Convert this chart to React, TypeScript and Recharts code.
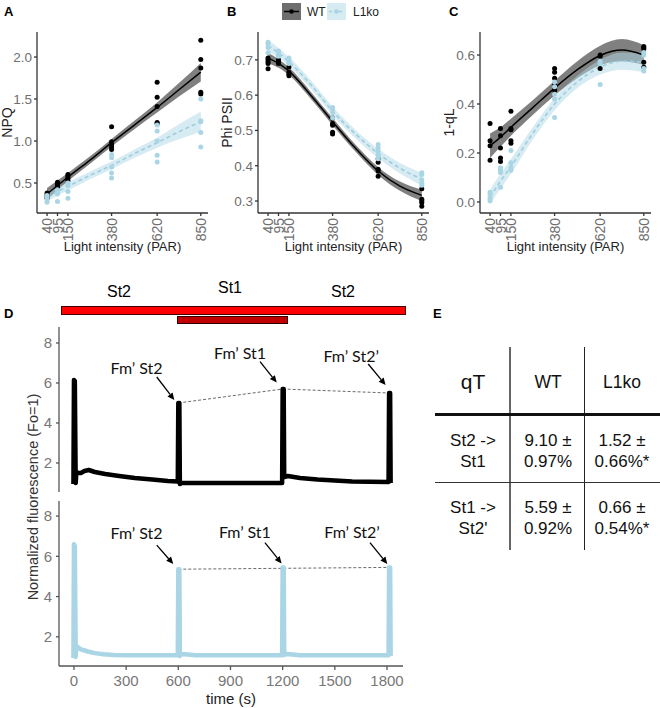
import {
  Area,
  ComposedChart,
  Line,
  LineChart,
  ReferenceDot,
  ReferenceLine,
  Scatter,
  XAxis,
  YAxis,
} from 'recharts'

const FONT = '"Liberation Sans", Arial, sans-serif'
const NOTE_FONT = 'Lato, "Liberation Sans", sans-serif'
const KO = '#a9d5e4'
const KO_LINE = '#9fcde0'
const KO_BAND = '#add8e6'
const WT_BAND = '#555555'
const TICK = '#6e6e6e'
const TICK_D = '#777'
const AXIS = '#333'
const AXIS_D = '#555'

// panels A-C
const lightLevels = [40, 95, 150, 380, 620, 850]
const fitX = [40, 95, 150, 265, 380, 500, 620, 735, 850]

const npqTicks = [0.5, 1.0, 1.5, 2.0]
const npqWt = [
  [0.32, 0.34, 0.36, 0.38],
  [0.45, 0.47, 0.49, 0.51],
  [0.53, 0.56, 0.58, 0.6],
  [0.9, 0.93, 0.96, 0.99, 1.17],
  [1.21, 1.22, 1.41, 1.52, 1.7],
  [1.56, 1.58, 1.87, 1.97, 2.2],
]
const npqKo = [
  [0.27, 0.3, 0.33, 0.35],
  [0.28, 0.37, 0.4, 0.42],
  [0.32, 0.4, 0.47, 0.5],
  [0.56, 0.62, 0.69, 0.8, 0.84],
  [0.75, 0.83, 1.0, 1.12, 1.19],
  [0.93, 1.1, 1.23, 1.24, 1.5],
]
const npqWtFit = [0.37, 0.47, 0.57, 0.77, 0.98, 1.19, 1.4, 1.61, 1.82]
const npqWtSe = [0.07, 0.06, 0.05, 0.045, 0.045, 0.05, 0.06, 0.08, 0.11]
const npqKoFit = [0.34, 0.4, 0.46, 0.59, 0.71, 0.85, 0.98, 1.11, 1.23]
const npqKoSe = [0.06, 0.05, 0.05, 0.045, 0.045, 0.05, 0.06, 0.09, 0.12]

const phiTicks = [0.3, 0.4, 0.5, 0.6, 0.7]
const phiWt = [
  [0.675, 0.69, 0.695, 0.7, 0.705],
  [0.69, 0.695, 0.7, 0.695],
  [0.655, 0.66, 0.665, 0.68],
  [0.49, 0.495, 0.515, 0.52, 0.535],
  [0.37, 0.385, 0.39, 0.41, 0.42],
  [0.285, 0.295, 0.3, 0.305, 0.335],
]
const phiKo = [
  [0.72, 0.735, 0.745, 0.75],
  [0.71, 0.715, 0.72, 0.725],
  [0.69, 0.695, 0.7, 0.705],
  [0.535, 0.55, 0.56, 0.565],
  [0.42, 0.43, 0.44, 0.45, 0.46],
  [0.345, 0.35, 0.36, 0.375, 0.38],
]
const phiWtFit = [0.705, 0.69, 0.668, 0.6, 0.525, 0.45, 0.385, 0.342, 0.316]
const phiWtSe = [0.015, 0.012, 0.011, 0.01, 0.01, 0.01, 0.011, 0.013, 0.016]
const phiKoFit = [0.74, 0.72, 0.695, 0.63, 0.555, 0.49, 0.435, 0.393, 0.362]
const phiKoSe = [0.016, 0.014, 0.013, 0.012, 0.012, 0.012, 0.013, 0.015, 0.018]

const qlTicks = [0.0, 0.2, 0.4, 0.6]
const qlWt = [
  [0.17, 0.23, 0.25, 0.32],
  [0.165, 0.18, 0.22, 0.27, 0.3],
  [0.24, 0.25, 0.295, 0.3, 0.37],
  [0.455, 0.46, 0.48, 0.505, 0.53, 0.545],
  [0.545, 0.595, 0.6],
  [0.55, 0.57, 0.625, 0.63, 0.635],
]
const qlKo = [
  [0.005, 0.015, 0.03, 0.04],
  [0.06, 0.12, 0.13, 0.14],
  [0.13, 0.14, 0.16, 0.21],
  [0.345, 0.42, 0.44, 0.47, 0.49],
  [0.48, 0.565, 0.575],
  [0.535, 0.545, 0.6, 0.61],
]
const qlWtFit = [0.23, 0.265, 0.305, 0.385, 0.465, 0.54, 0.598, 0.62, 0.6]
const qlWtSe = [0.05, 0.04, 0.035, 0.03, 0.03, 0.035, 0.04, 0.045, 0.04]
const qlKoFit = [0.02, 0.085, 0.145, 0.28, 0.4, 0.49, 0.55, 0.575, 0.57]
const qlKoSe = [0.03, 0.03, 0.03, 0.025, 0.025, 0.025, 0.03, 0.035, 0.04]

// panel D
const timeTicks = [0, 300, 600, 900, 1200, 1500, 1800]
const fluoTicks = [2, 4, 6, 8]
const fmLabels = ['Fm’ St2', 'Fm’ St1', 'Fm’ St2’']

const wtTrace = [
  [-3, 0.95], [0, 6.15], [5, 6.1], [10, 1.0], [14, 1.55], [25, 1.5], [40, 1.5], [60, 1.6],
  [85, 1.65], [120, 1.55], [180, 1.45], [260, 1.35], [350, 1.25], [450, 1.17], [540, 1.1],
  [597, 1.07], [600, 5.0], [606, 5.0], [609, 0.95], [620, 1.0], [700, 1.0], [800, 1.0],
  [900, 1.0], [1000, 1.0], [1100, 1.0], [1197, 1.0], [1200, 5.7], [1206, 5.7], [1209, 1.3],
  [1230, 1.35], [1300, 1.25], [1400, 1.17], [1500, 1.12], [1600, 1.08], [1700, 1.06],
  [1809, 1.05], [1812, 5.5], [1818, 5.5], [1821, 1.0],
]
const wtLabelPos = [[360, 6.8], [955, 7.55], [1594, 7.4]]
const wtArrows = [
  [[476, 6.3], [577, 5.15]],
  [[1070, 7.07], [1166, 6.02]],
  [[1692, 6.95], [1792, 5.9]],
]
const wtFmLine = [[600, 5.0], [1200, 5.7], [1812, 5.5]]

const koTrace = [
  [-3, 0.95], [0, 6.6], [5, 6.5], [10, 1.0], [14, 1.55], [20, 1.5], [40, 1.38], [80, 1.27],
  [120, 1.19], [170, 1.13], [230, 1.1], [300, 1.09], [400, 1.08], [500, 1.08], [597, 1.08],
  [600, 5.36], [606, 5.36], [609, 1.05], [620, 1.15], [700, 1.08], [800, 1.08], [900, 1.08],
  [1000, 1.08], [1100, 1.08], [1197, 1.08], [1200, 5.45], [1206, 5.45], [1209, 1.1],
  [1225, 1.15], [1300, 1.08], [1400, 1.08], [1500, 1.08], [1600, 1.08], [1700, 1.08],
  [1809, 1.08], [1812, 5.45], [1818, 5.45], [1821, 1.05],
]
const koLabelPos = [[360, 7.2], [983, 7.23], [1599, 7.23]]
const koArrows = [
  [[476, 6.56], [571, 5.62]],
  [[1098, 6.68], [1194, 5.65]],
  [[1702, 6.68], [1802, 5.62]],
]
const koFmLine = [[600, 5.36], [1812, 5.45]]

// panel E
const tableHead = ['qT', 'WT', 'L1ko']
const tableRows = [
  ['St2 ->\nSt1', '9.10 ±\n0.97%', '1.52 ±\n0.66%*'],
  ['St1 ->\nSt2\'', '5.59 ±\n0.92%', '0.66 ±\n0.54%*'],
]

const toPoints = (groups: number[][]) =>
  lightLevels.flatMap((x, i) => groups[i].map((y) => ({ x, y })))

const dot = (color: string) => (p: any) => <circle cx={p.cx} cy={p.cy} r={2.5} fill={color} />

const RotTick = ({ x, y, payload }: any) => (
  <text
    x={x}
    y={y}
    transform={`rotate(-90 ${x} ${y})`}
    textAnchor="end"
    dy="0.36em"
    fontSize={14}
    fill={TICK}
  >
    {payload.value}
  </text>
)

const YTitle = ({ posX, txt }: any) => (
  <text
    x={posX}
    y={122.5}
    transform={`rotate(-90 ${posX} 122.5)`}
    textAnchor="middle"
    dominantBaseline="central"
    fontSize={14}
    fill="#222"
  >
    {txt}
  </text>
)

const Panel = ({ left, axisW, wt, ko, wtFit, wtSe, koFit, koSe, domain, ticks, title, titleX }: any) => {
  const rows = fitX.map((x, i) => ({
    x,
    wt: wtFit[i],
    wtBand: [wtFit[i] - wtSe[i], wtFit[i] + wtSe[i]],
    ko: koFit[i],
    koBand: [koFit[i] - koSe[i], koFit[i] + koSe[i]],
  }))
  return (
    <div style={{ position: 'absolute', left, top: 0 }}>
      <ComposedChart
        width={axisW + 171 + 8}
        height={260}
        data={rows}
        margin={{ top: 32, right: 8, bottom: 0, left: 0 }}
      >
        <XAxis
          type="number"
          dataKey="x"
          domain={[-13, 888]}
          ticks={lightLevels}
          interval={0}
          allowDataOverflow
          height={47}
          tickSize={3}
          stroke={AXIS}
          strokeWidth={1.3}
          tick={<RotTick />}
          label={{ value: 'Light intensity (PAR)', position: 'insideBottom', offset: 9, fill: '#222', fontSize: 13 }}
        />
        <YAxis
          type="number"
          dataKey="y"
          domain={domain}
          ticks={ticks}
          interval={0}
          allowDataOverflow
          width={axisW}
          tickSize={3}
          stroke={AXIS}
          strokeWidth={1.3}
          tick={{ fill: TICK, fontSize: 13.5 }}
          tickFormatter={(v: number) => v.toFixed(1)}
          label={<YTitle posX={titleX} txt={title} />}
        />
        <Area type="monotone" dataKey="wtBand" stroke="none" fill={WT_BAND} fillOpacity={0.75} isAnimationActive={false} />
        <Area type="monotone" dataKey="koBand" stroke="none" fill={KO_BAND} fillOpacity={0.5} isAnimationActive={false} />
        <Line type="monotone" dataKey="wt" stroke="#000" strokeWidth={1.5} dot={false} isAnimationActive={false} />
        <Line type="monotone" dataKey="ko" stroke={KO_LINE} strokeWidth={1.6} strokeDasharray="4 3" dot={false} isAnimationActive={false} />
        <Scatter data={toPoints(wt)} fill="#000" shape={dot('#000')} isAnimationActive={false} />
        <Scatter data={toPoints(ko)} fill={KO} shape={dot(KO)} isAnimationActive={false} />
      </ComposedChart>
    </div>
  )
}

const arrowShape = (p: any) => {
  const { x1, y1, x2, y2 } = p
  const a = Math.atan2(y2 - y1, x2 - x1)
  const L = 7
  const W = 3.2
  const bx = x2 - L * Math.cos(a)
  const by = y2 - L * Math.sin(a)
  const px = -Math.sin(a) * W
  const py = Math.cos(a) * W
  return (
    <g>
      <line x1={x1} y1={y1} x2={bx} y2={by} stroke="#000" strokeWidth={1.3} />
      <polygon points={`${x2},${y2} ${bx + px},${by + py} ${bx - px},${by - py}`} fill="#000" />
    </g>
  )
}

const noteShape = (txt: string) => (p: any) => (
  <text
    x={p.cx}
    y={p.cy}
    textAnchor="middle"
    dominantBaseline="central"
    fontFamily={NOTE_FONT}
    fontSize={16}
    fill="#111"
  >
    {txt}
  </text>
)

const FluoPanel = ({ top, trace, color, domainY, showX, marginTop, labelPos, arrows, fmLine }: any) => {
  const rows = trace.map(([t, v]: number[]) => ({ t, v }))
  const height = marginTop + 165 + (showX ? 42 : 2)
  const segs = fmLine.slice(1).map((pt: number[], i: number) => [fmLine[i], pt])
  return (
    <div style={{ position: 'absolute', left: 0, top }}>
      <LineChart
        width={413}
        height={height}
        data={rows}
        margin={{ top: marginTop, right: 10, left: 0, bottom: showX ? 0 : 2 }}
      >
        <XAxis
          hide={!showX}
          type="number"
          dataKey="t"
          domain={[-86, 1892]}
          ticks={timeTicks}
          interval={0}
          allowDataOverflow
          height={42}
          tickSize={4}
          tickMargin={5}
          stroke={AXIS_D}
          strokeWidth={1.3}
          tick={{ fill: TICK_D, fontSize: 15 }}
          label={{ value: 'time (s)', position: 'insideBottom', offset: 4, fill: '#222', fontSize: 15 }}
        />
        <YAxis
          type="number"
          domain={domainY}
          ticks={fluoTicks}
          interval={0}
          allowDataOverflow
          width={59}
          tickSize={3}
          tickMargin={4}
          stroke={AXIS_D}
          strokeWidth={1.3}
          tick={{ fill: TICK_D, fontSize: 15 }}
        />
        {segs.map((s: number[][], i: number) => (
          <ReferenceLine
            key={`fm${i}`}
            segment={[{ x: s[0][0], y: s[0][1] }, { x: s[1][0], y: s[1][1] }]}
            stroke="#444"
            strokeWidth={0.8}
            strokeDasharray="3 2"
            ifOverflow="visible"
          />
        ))}
        <Line
          type="linear"
          dataKey="v"
          stroke={color}
          strokeWidth={4.5}
          strokeLinejoin="round"
          dot={false}
          isAnimationActive={false}
        />
        {arrows.map((a: number[][], i: number) => (
          <ReferenceLine
            key={`ar${i}`}
            segment={[{ x: a[0][0], y: a[0][1] }, { x: a[1][0], y: a[1][1] }]}
            shape={arrowShape}
            ifOverflow="visible"
          />
        ))}
        {labelPos.map((p: number[], i: number) => (
          <ReferenceDot key={`lb${i}`} x={p[0]} y={p[1]} r={0} shape={noteShape(fmLabels[i])} ifOverflow="visible" />
        ))}
      </LineChart>
    </div>
  )
}

const letter = (txt: string, left: number, top: number) => (
  <div style={{ position: 'absolute', left, top, fontWeight: 'bold', fontSize: 13, lineHeight: '13px' }}>{txt}</div>
)

const colCenters = [473, 548, 622]
const rowTops = [429.5, 496.5]

export default function App() {
  return (
    <div style={{ position: 'absolute', left: 0, top: 0, width: 660, height: 708, background: '#fff', fontFamily: FONT, overflow: 'hidden' }}>
      <Panel left={0} axisW={37} wt={npqWt} ko={npqKo} wtFit={npqWtFit} wtSe={npqWtSe} koFit={npqKoFit} koSe={npqKoSe}
        domain={[0.143, 2.298]} ticks={npqTicks} title="NPQ" titleX={7} />
      <Panel left={216} axisW={42} wt={phiWt} ko={phiKo} wtFit={phiWtFit} wtSe={phiWtSe} koFit={phiKoFit} koSe={phiKoSe}
        domain={[0.266, 0.779]} ticks={phiTicks} title="Phi PSII" titleX={11} />
      <Panel left={437} axisW={43} wt={qlWt} ko={qlKo} wtFit={qlWtFit} wtSe={qlWtSe} koFit={qlKoFit} koSe={qlKoSe}
        domain={[-0.045, 0.694]} ticks={qlTicks} title="1-qL" titleX={12} />

      {letter('A', 4, 5)}
      {letter('B', 227, 5)}
      {letter('C', 449, 5)}
      {letter('D', 4, 307)}
      {letter('E', 433, 307)}

      {/* legend */}
      <svg style={{ position: 'absolute', left: 282, top: 3 }} width={100} height={18}>
        <rect x={0} y={0} width={19} height={17} fill="#6e6e6e" />
        <line x1={2} y1={8.5} x2={17} y2={8.5} stroke="#000" strokeWidth={1.5} />
        <circle cx={9.5} cy={8.5} r={2.3} fill="#000" />
        <text x={25} y={13} fontSize={12} fill="#222">WT</text>
        <rect x={45} y={0} width={19} height={17} fill="#d6ebf2" />
        <line x1={47} y1={8.5} x2={62} y2={8.5} stroke={KO_LINE} strokeWidth={1.5} strokeDasharray="3 2" />
        <circle cx={54.5} cy={8.5} r={2.3} fill={KO} />
        <text x={71} y={13} fontSize={12} fill="#222">L1ko</text>
      </svg>

      {/* light regime bars */}
      <div style={{ position: 'absolute', left: 107, top: 283, fontSize: 16 }}>St2</div>
      <div style={{ position: 'absolute', left: 218, top: 279, fontSize: 16 }}>St1</div>
      <div style={{ position: 'absolute', left: 331, top: 283, fontSize: 16 }}>St2</div>
      <div style={{ position: 'absolute', left: 61, top: 306, width: 343, height: 7, background: '#ff0000', border: '1px solid #400' }} />
      <div style={{ position: 'absolute', left: 177, top: 316, width: 109, height: 6, background: '#c00000', border: '1px solid #300' }} />

      <FluoPanel top={320} marginTop={7} trace={wtTrace} color="#000" domainY={[0.55, 8.8]} showX={false}
        labelPos={wtLabelPos} arrows={wtArrows} fmLine={wtFmLine} />
      <FluoPanel top={495} marginTop={6} trace={koTrace} color={KO} domainY={[0.55, 8.75]} showX
        labelPos={koLabelPos} arrows={koArrows} fmLine={koFmLine} />

      <svg style={{ position: 'absolute', left: 0, top: 0 }} width={60} height={708}>
        <text x={33} y={497} transform="rotate(-90 33 497)" textAnchor="middle" dominantBaseline="central" fontSize={14.5} fill="#333">
          Normalized fluorescence (Fo=1)
        </text>
      </svg>

      {/* table E */}
      <div style={{ position: 'absolute', left: 509, top: 347, width: 1.5, height: 203, background: '#666' }} />
      <div style={{ position: 'absolute', left: 583.5, top: 347, width: 1.5, height: 203, background: '#222' }} />
      <div style={{ position: 'absolute', left: 435, top: 412.5, width: 225, height: 3.5, background: '#111' }} />
      <div style={{ position: 'absolute', left: 435, top: 481.5, width: 225, height: 1.5, background: '#333' }} />
      {tableHead.map((h, i) => (
        <div key={h} style={{ position: 'absolute', left: colCenters[i] - 37, top: i === 0 ? 369 : 371, width: 74, textAlign: 'center', fontSize: i === 0 ? 21 : 17.5, lineHeight: i === 0 ? '26px' : '22px', color: '#111' }}>
          {h}
        </div>
      ))}
      {tableRows.map((row, r) =>
        row.map((cell, c) => (
          <div key={`${r}-${c}`} style={{ position: 'absolute', left: colCenters[c] - 37, top: rowTops[r], width: 74, textAlign: 'center', fontSize: 17, lineHeight: '21px', whiteSpace: 'pre-line', color: '#111' }}>
            {cell}
          </div>
        )),
      )}
    </div>
  )
}
